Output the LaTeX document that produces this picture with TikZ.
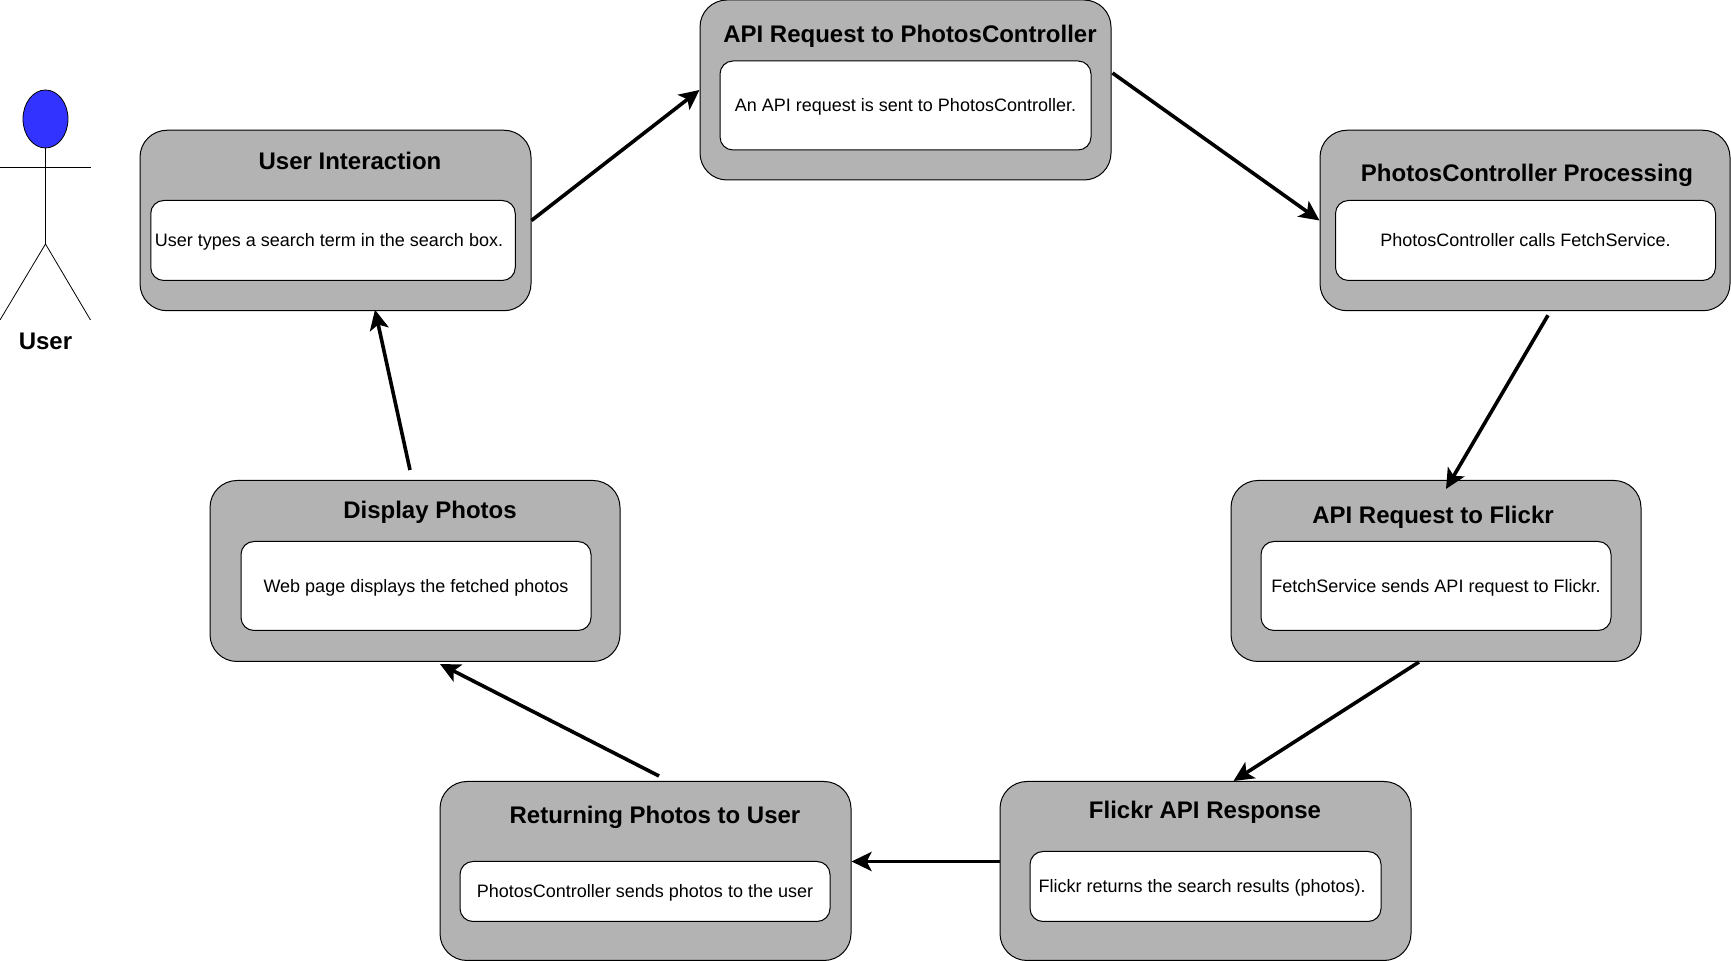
\documentclass[tikz,border=0pt]{standalone}
\usepackage{fontspec}
\setmainfont{Liberation Sans}
\usetikzlibrary{arrows.meta,positioning,calc,shapes.geometric}

\tikzset{
  outerbox/.style={draw,fill=boxgray,rounded corners=13.5pt,line width=0.5pt,inner sep=0pt},
  innerbox/.style={draw,fill=white,rounded corners=6.5pt,line width=0.5pt,inner sep=0pt,text height=7.5pt,text depth=1pt,font=\fontsize{9}{10}\selectfont},
  titletext/.style={inner sep=0pt,font=\fontsize{12}{14}\selectfont\bfseries},
  flowarrow/.style={-{Stealth[length=10pt,width=9.5pt,inset=2.4pt]},line width=1.8pt},
  actorline/.style={line width=0.4pt}
}
\definecolor{boxgray}{HTML}{B3B3B3}
\definecolor{headblue}{HTML}{3333FF}

\begin{document}
\begin{tikzpicture}[x=0.5pt,y=-0.5pt]
  \useasboundingbox (0,0) rectangle (1731,961);

  % actor
  \node[ellipse,draw,fill=headblue,line width=0.4pt,inner sep=0pt,minimum width=22.5pt,minimum height=29pt] (head) at (45.5,119) {};
  \coordinate (armleft) at (0,167);
  \coordinate (armright) at (90.5,167);
  \coordinate (hip) at (45.5,244);
  \draw[actorline] (head.south) -- (hip);
  \draw[actorline] (armleft) -- (armright);
  \draw[actorline] (0,320) -- (hip) -- (90.5,320);
  \node[titletext] (user) at (45.5,341) {User};

  % user interaction
  \node[outerbox,minimum width=195.5pt,minimum height=90.25pt] (ui) at (335.5,220.5) {};
  \node[titletext] (uititle) at (350,161) {User Interaction};
  \node[innerbox,minimum width=182.25pt,minimum height=40pt] (uitext) at (333,240.5) {\hspace*{-4pt}User types a search term in the search box.};

  % api request to controller
  \node[outerbox,minimum width=205.5pt,minimum height=90pt] (api) at (905.5,90) {};
  \node[titletext] (apititle) at (910,36.5) {API Request to PhotosController};
  \node[innerbox,minimum width=185.5pt,minimum height=44.5pt] (apitext) at (905.5,105.5) {An API request is sent to PhotosController.};

  % controller processing
  \node[outerbox,minimum width=205pt,minimum height=90.25pt] (photos) at (1525,220.5) {};
  \node[titletext] (photostitle) at (1527,175.5) {PhotosController Processing};
  \node[innerbox,minimum width=190pt,minimum height=40pt] (photostext) at (1525.5,240.5) {PhotosController calls FetchService.};

  % api request to flickr
  \node[outerbox,minimum width=205pt,minimum height=90.5pt] (req) at (1436,571) {};
  \node[titletext] (reqtitle) at (1433,517.5) {API Request to Flickr};
  \node[innerbox,minimum width=175pt,minimum height=44.5pt] (reqtext) at (1436,586) {FetchService sends API request to Flickr.};

  % flickr response
  \node[outerbox,minimum width=205.5pt,minimum height=89.5pt] (resp) at (1205.5,871) {};
  \node[titletext] (resptitle) at (1205,812.5) {Flickr API Response};
  \node[innerbox,minimum width=175.5pt,minimum height=35pt] (resptext) at (1205.5,886.5) {\hspace*{-3.4pt}Flickr returns the search results (photos).};

  % returning photos
  \node[outerbox,minimum width=205.5pt,minimum height=89.5pt] (ret) at (645.5,871) {};
  \node[titletext] (rettitle) at (655,817.5) {Returning Photos to User};
  \node[innerbox,minimum width=185pt,minimum height=30pt] (rettext) at (645,891.5) {PhotosController sends photos to the user};

  % display photos
  \node[outerbox,minimum width=205pt,minimum height=90.5pt] (disp) at (415,571) {};
  \node[titletext] (disptitle) at (430,512) {Display Photos};
  \node[innerbox,minimum width=175pt,minimum height=44.5pt] (disptext) at (416,586) {Web page displays the fetched photos};

  % arrows
  \draw[flowarrow] (ui.east) -- (api.west);
  \draw[flowarrow] ($(api.east)+(1,-17)$) -- (photos.west);
  \draw[flowarrow] ($(photos.south)+(23,4)$) -- ($(req.north)+(10,9)$);
  \draw[flowarrow] ($(req.south)+(-17,0)$) -- ($(resp.north)+(28,0)$);
  \draw[flowarrow] ($(resp.west)+(0,-9.5)$) -- ($(ret.east)+(0,-9.5)$);
  \draw[flowarrow] ($(ret.north)+(13.5,-5)$) -- ($(disp.south)+(25,2)$);
  \draw[flowarrow] ($(disp.north)+(-5,-10)$) -- ($(ui.south)+(39.5,-1.5)$);
\end{tikzpicture}
\end{document}
